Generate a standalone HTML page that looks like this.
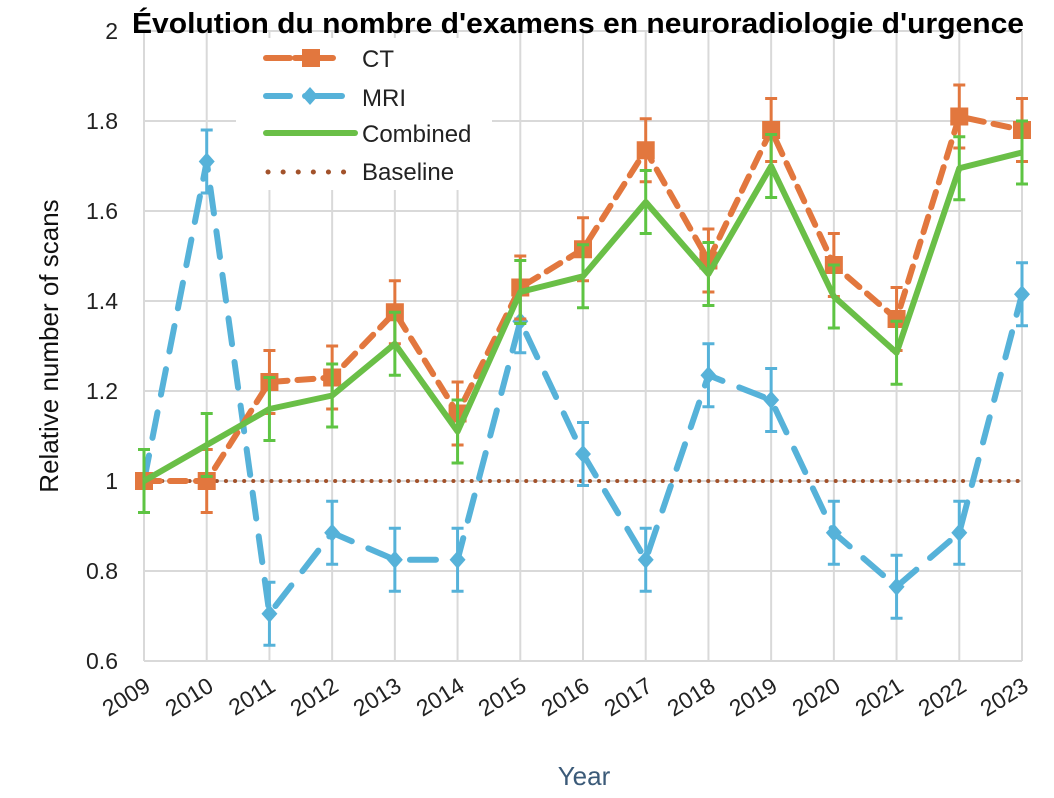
<!DOCTYPE html>
<html><head><meta charset="utf-8"><style>
body{margin:0;background:#fff;width:1054px;height:798px;overflow:hidden}
svg{display:block;font-family:"Liberation Sans",sans-serif}
</style></head><body>
<svg id="s" width="1054" height="798" viewBox="0 0 1054 798">
<rect width="1054" height="798" fill="#fff"/>
<g id="grid" stroke="#d9d9d9" stroke-width="2"></g>
<rect x="236" y="38" width="256" height="152" fill="#fff"/>
<g id="data"></g>
<g font-size="23" fill="#222" text-anchor="end">
<text x="118" y="39">2</text><text x="118" y="129">1.8</text><text x="118" y="219">1.6</text>
<text x="118" y="309">1.4</text><text x="118" y="399">1.2</text><text x="118" y="489">1</text>
<text x="118" y="579">0.8</text><text x="118" y="669">0.6</text>
</g>
<g id="xl" font-size="23" fill="#222" text-anchor="end">
<text transform="translate(152,690) rotate(-32)">2009</text>
<text transform="translate(215,690) rotate(-32)">2010</text>
<text transform="translate(277,690) rotate(-32)">2011</text>
<text transform="translate(340,690) rotate(-32)">2012</text>
<text transform="translate(403,690) rotate(-32)">2013</text>
<text transform="translate(466,690) rotate(-32)">2014</text>
<text transform="translate(528,690) rotate(-32)">2015</text>
<text transform="translate(591,690) rotate(-32)">2016</text>
<text transform="translate(654,690) rotate(-32)">2017</text>
<text transform="translate(717,690) rotate(-32)">2018</text>
<text transform="translate(779,690) rotate(-32)">2019</text>
<text transform="translate(842,690) rotate(-32)">2020</text>
<text transform="translate(905,690) rotate(-32)">2021</text>
<text transform="translate(968,690) rotate(-32)">2022</text>
<text transform="translate(1030,690) rotate(-32)">2023</text>
</g>
<text x="584" y="785" font-size="26" fill="#3b5a78" text-anchor="middle">Year</text>
<text transform="translate(58,346) rotate(-90)" font-size="26" fill="#111" text-anchor="middle">Relative number of scans</text>
<text x="578" y="33" font-size="29" font-weight="bold" fill="#000" text-anchor="middle" textLength="892" lengthAdjust="spacingAndGlyphs">Évolution du nombre d'examens en neuroradiologie d'urgence</text>
<g font-size="24" fill="#222">
<text x="362" y="67">CT</text><text x="362" y="106">MRI</text>
<text x="362" y="142">Combined</text><text x="362" y="180">Baseline</text>
</g>
<g stroke-linecap="round">
<line x1="266" y1="58" x2="290" y2="58" stroke="#e2773e" stroke-width="6"/>
<line x1="295" y1="58" x2="342" y2="58" stroke="#e2773e" stroke-width="6" stroke-dasharray="14 10"/>
<rect x="302" y="49" width="18" height="18" fill="#e2773e"/>
<line x1="266" y1="96" x2="290" y2="96" stroke="#56b2d9" stroke-width="6"/>
<line x1="305" y1="96" x2="342" y2="96" stroke="#56b2d9" stroke-width="6"/>
<path d="M310 87 L318 96 L310 105 L302 96Z" fill="#56b2d9"/>
<line x1="266" y1="133" x2="355" y2="133" stroke="#6abf47" stroke-width="6"/>
<line x1="268" y1="172" x2="345" y2="172" stroke="#a2522b" stroke-width="5" stroke-dasharray="0.1 15"/>
</g>
</svg>
<script>
const X=i=>144+i*62.714, Y=v=>481-(v-1)*450, NS="http://www.w3.org/2000/svg";
const g=document.getElementById('grid'), d=document.getElementById('data');
function el(p,t,a){const e=document.createElementNS(NS,t);for(const k in a)e.setAttribute(k,a[k]);p.appendChild(e);return e;}
for(let i=0;i<15;i++)el(g,'line',{x1:X(i),x2:X(i),y1:31,y2:661});
for(let v=0.6;v<2.01;v+=0.2)el(g,'line',{x1:144,x2:1022,y1:Y(v),y2:Y(v)});
const ct=[1,1,1.22,1.23,1.375,1.15,1.43,1.515,1.735,1.49,1.78,1.48,1.36,1.81,1.78];
const mri=[1,1.71,0.705,0.885,0.825,0.825,1.355,1.06,0.825,1.235,1.18,0.885,0.765,0.885,1.415];
const cb=[1,1.08,1.16,1.19,1.305,1.11,1.42,1.455,1.62,1.46,1.70,1.41,1.285,1.695,1.73];
const pts=a=>a.map((v,i)=>X(i)+','+Y(v)).join(' ');
function eb(a,c){a.forEach((v,i)=>{const x=X(i),t=Y(v+0.07),b=Y(v-0.07);
 el(d,'line',{x1:x,x2:x,y1:t,y2:b,stroke:c,'stroke-width':3});
 el(d,'line',{x1:x-6,x2:x+6,y1:t,y2:t,stroke:c,'stroke-width':3});
 el(d,'line',{x1:x-6,x2:x+6,y1:b,y2:b,stroke:c,'stroke-width':3});});}
el(d,'line',{x1:144,x2:1022,y1:481,y2:481,stroke:'#a2522b','stroke-width':4,'stroke-dasharray':'0.1 9','stroke-linecap':'round'});
eb(mri,'#56b2d9');
el(d,'polyline',{points:pts(mri),fill:'none',stroke:'#56b2d9','stroke-width':6,'stroke-dasharray':'26 18','stroke-linecap':'round'});
mri.forEach((v,i)=>el(d,'path',{d:`M${X(i)} ${Y(v)-9}l8 9l-8 9l-8 -9z`,fill:'#56b2d9'}));
eb(ct,'#e2773e');
el(d,'polyline',{points:pts(ct),fill:'none',stroke:'#e2773e','stroke-width':6,'stroke-dasharray':'16 10','stroke-linecap':'round'});
ct.forEach((v,i)=>el(d,'rect',{x:X(i)-9,y:Y(v)-9,width:18,height:18,fill:'#e2773e'}));
eb(cb,'#5ec443');
el(d,'polyline',{points:pts(cb),fill:'none',stroke:'#6abf47','stroke-width':6,'stroke-linejoin':'round'});
</script>
</body></html>
